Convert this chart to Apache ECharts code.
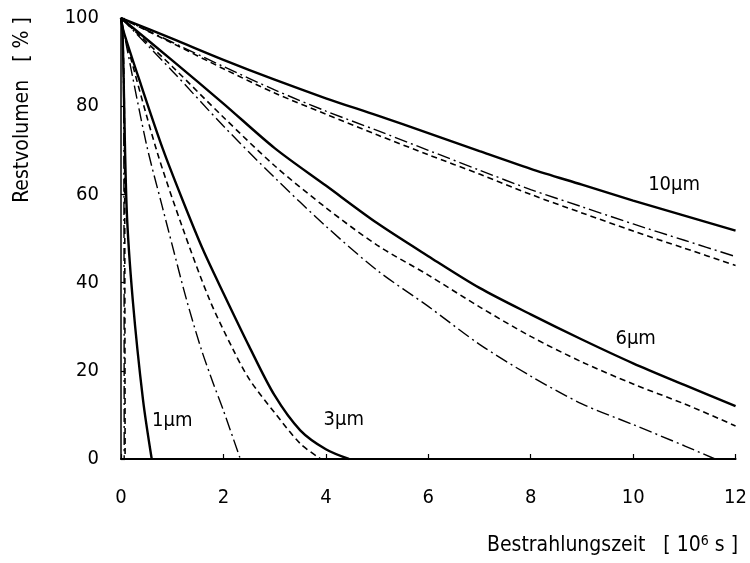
<!DOCTYPE html>
<html><head><meta charset="utf-8">
<script src="https://cdn.jsdelivr.net/npm/echarts@6/dist/echarts.min.js"></script>
<style>html,body{margin:0;padding:0;background:#fff}#c{width:750px;height:563px}</style>
</head><body><div id="c"></div>
<script>
// Axis ticks
const xTicks = [0, 2, 4, 6, 8, 10, 12];
const yTicks = [0, 20, 40, 60, 80, 100];

// 10 µm
const x10 = [0, 1, 2, 3, 4, 5, 6, 7, 8, 9, 10, 11, 12];
const y10Solid   = [100, 95.3, 90.5, 86.0, 81.8, 77.9, 73.9, 69.8, 65.8, 62.2, 58.6, 55.2, 51.8];
const y10DashDot = [100, 94.5, 89.0, 83.7, 78.9, 74.5, 70.0, 65.5, 61.1, 57.2, 53.3, 49.6, 45.9];
const y10Dashed  = [100, 94.3, 88.5, 83.0, 78.2, 73.5, 69.0, 64.6, 60.0, 55.8, 51.7, 47.8, 43.9];

// 6 µm
const x6 = [0, 1, 2, 3, 4, 5, 6, 7, 8, 9, 10, 11, 12];
const y6Solid  = [100, 90.4, 80.6, 70.5, 62.0, 53.5, 46.0, 38.8, 32.8, 27.1, 21.7, 16.8, 12.0];
const y6Dashed = [100, 89.0, 77.5, 66.5, 57.0, 48.5, 41.7, 34.5, 27.8, 22.0, 17.0, 12.5, 7.5];
const x6DashDot = [0, 1, 2, 3, 4, 5, 6, 7, 8, 9, 10, 11, 11.6];
const y6DashDot = [100, 88.0, 75.5, 63.8, 52.8, 42.8, 34.6, 26.0, 18.8, 12.5, 7.8, 3.0, 0];

// 3 µm
const x3Solid = [0, 0.05, 0.4, 0.82, 1.2, 1.6, 2.0, 2.5, 3.0, 3.5, 4.0, 4.45];
const y3Solid = [100, 97, 84.5, 70.2, 58.8, 47.5, 37.6, 25.6, 14.4, 6.5, 2.2, 0];
const x3Dashed = [0, 0.05, 0.69, 1.2, 1.73, 2.19, 2.51, 3.0, 3.5, 3.9];
const y3Dashed = [100, 97, 70.2, 52.5, 36.1, 24.8, 18.0, 10.5, 3.5, 0];
const x3DashDot = [0, 0.05, 0.5, 0.8, 1.0, 1.28, 1.57, 1.8, 2.0, 2.33];
const y3DashDot = [100, 97, 71.2, 57.5, 48.5, 36.1, 24.8, 17.2, 11.0, 0];

// 1 µm
const x1Solid = [0, 0.03, 0.11, 0.23, 0.43, 0.6];
const y1Solid = [100, 97, 57, 36, 13.4, 0];
const x1Dashed = [0, 0.03, 0.06, 0.07, 0.075, 0.08];
const y1Dashed = [100, 97, 85, 70, 40, 0];
const x1DashDot = [0, 0.03, 0.05, 0.055, 0.06, 0.062];
const y1DashDot = [100, 97, 85, 70, 40, 0];

// Curve labels (data coordinates of label centres)
const labelTexts = ['10μm', '6μm', '3μm', '1μm'];
const labelX = [10.8, 10.05, 4.35, 1.0];
const labelY = [62.2, 27.2, 8.8, 8.6];

const FONT = "'DejaVu Sans Condensed', 'Liberation Sans Narrow', 'Roboto', sans-serif";
const INK = '#000';

function pts(xs, ys) { return xs.map((x, i) => [x, ys[i]]); }

const SOLID = { color: INK, width: 2.4, type: 'solid' };
const DASHED = { color: INK, width: 1.6, type: [6, 4] };
const DASHDOT = { color: INK, width: 1.4, type: [13, 4, 2, 4] };

function curve(xs, ys, style) {
  return {
    type: 'line', data: pts(xs, ys), showSymbol: false, symbol: 'none',
    smooth: 0.3, lineStyle: style, silent: true, z: 3
  };
}

const series = [
  curve(x10, y10Solid, SOLID), curve(x10, y10DashDot, DASHDOT), curve(x10, y10Dashed, DASHED),
  curve(x6, y6Solid, SOLID), curve(x6, y6Dashed, DASHED), curve(x6DashDot, y6DashDot, DASHDOT),
  curve(x3Solid, y3Solid, SOLID), curve(x3Dashed, y3Dashed, DASHED), curve(x3DashDot, y3DashDot, DASHDOT),
  curve(x1Solid, y1Solid, SOLID), curve(x1Dashed, y1Dashed, DASHED), curve(x1DashDot, y1DashDot, DASHDOT),
  {
    type: 'scatter', symbolSize: 0, silent: true, z: 5,
    itemStyle: { opacity: 1, color: '#000' },
    data: labelX.map((x, i) => ({ value: [x, labelY[i]], label: { formatter: labelTexts[i] } })),
    label: { show: true, position: 'inside', color: '#000', opacity: 1, fontFamily: FONT, fontSize: 20 }
  }
];

const chart = echarts.init(document.getElementById('c'), null, { renderer: 'canvas' });
chart.setOption({
  animation: false,
  backgroundColor: '#fff',
  grid: { left: 121, right: 13, top: 18, bottom: 104, containLabel: false },
  xAxis: {
    type: 'value', min: xTicks[0], max: xTicks[xTicks.length - 1], interval: 2,
    axisLine: { show: true, lineStyle: { color: INK, width: 2 } },
    axisTick: { show: true, inside: true, length: 5, lineStyle: { color: INK, width: 1.2 } },
    axisLabel: { color: INK, fontFamily: FONT, fontSize: 20, margin: 29 },
    splitLine: { show: false }
  },
  yAxis: {
    type: 'value', min: yTicks[0], max: yTicks[yTicks.length - 1], interval: 20,
    axisLine: { show: true, lineStyle: { color: INK, width: 1.5 } },
    axisTick: { show: true, inside: true, length: 4, lineStyle: { color: INK, width: 1.2 } },
    axisLabel: { color: INK, fontFamily: FONT, fontSize: 20, margin: 22 },
    splitLine: { show: false }
  },
  graphic: [
    {
      type: 'text', right: 12, top: 534,
      style: {
        text: 'Bestrahlungszeit   [ 10{sup|6} s ]',
        rich: { sup: { fontSize: 14, verticalAlign: 'top', padding: [0, 0, 10, 0], fontFamily: FONT, fill: INK } },
        font: '21px ' + FONT, fill: INK
      }
    },
    {
      type: 'text', x: 23, y: 110, rotation: Math.PI / 2,
      style: { text: 'Restvolumen   [ % ]', font: '21px ' + FONT, fill: INK, align: 'center', verticalAlign: 'middle' }
    }
  ],
  series: series
});
</script>
</body></html>
